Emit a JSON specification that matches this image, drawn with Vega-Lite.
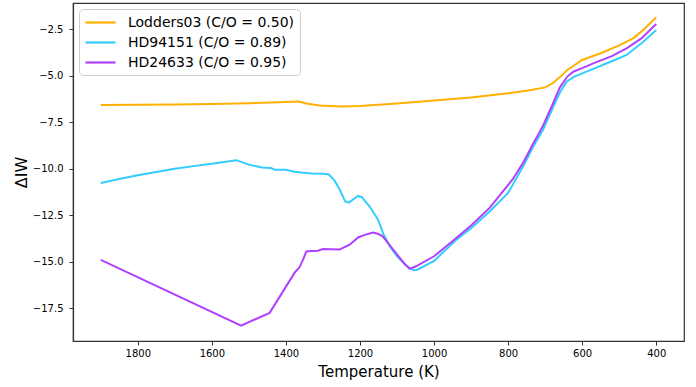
{
  "$schema": "https://vega.github.io/schema/vega-lite/v6.json",
  "width": 611,
  "height": 338,
  "autosize": {"type": "none"},
  "padding": {"left": 73, "top": 3, "right": 12, "bottom": 46},
  "config": {
    "font": "DejaVu Sans",
    "view": {"stroke": "#333", "strokeWidth": 1.2},
    "axis": {
      "grid": false,
      "domainColor": "#333",
      "domainWidth": 1.2,
      "tickColor": "#333",
      "tickSize": 4,
      "labelFontSize": 10,
      "labelColor": "#000",
      "titleFontSize": 16,
      "titleFontWeight": "normal",
      "titleColor": "#000"
    }
  },
  "data": {
    "values": [
      {"series": "Lodders03 (C/O = 0.50)", "T": 1900, "v": -6.58},
      {"series": "Lodders03 (C/O = 0.50)", "T": 1800, "v": -6.57},
      {"series": "Lodders03 (C/O = 0.50)", "T": 1700, "v": -6.55},
      {"series": "Lodders03 (C/O = 0.50)", "T": 1600, "v": -6.52},
      {"series": "Lodders03 (C/O = 0.50)", "T": 1500, "v": -6.48},
      {"series": "Lodders03 (C/O = 0.50)", "T": 1420, "v": -6.43},
      {"series": "Lodders03 (C/O = 0.50)", "T": 1365, "v": -6.39},
      {"series": "Lodders03 (C/O = 0.50)", "T": 1345, "v": -6.5},
      {"series": "Lodders03 (C/O = 0.50)", "T": 1310, "v": -6.6},
      {"series": "Lodders03 (C/O = 0.50)", "T": 1250, "v": -6.66},
      {"series": "Lodders03 (C/O = 0.50)", "T": 1200, "v": -6.63},
      {"series": "Lodders03 (C/O = 0.50)", "T": 1100, "v": -6.5},
      {"series": "Lodders03 (C/O = 0.50)", "T": 1000, "v": -6.34},
      {"series": "Lodders03 (C/O = 0.50)", "T": 900, "v": -6.18},
      {"series": "Lodders03 (C/O = 0.50)", "T": 800, "v": -5.95},
      {"series": "Lodders03 (C/O = 0.50)", "T": 750, "v": -5.81},
      {"series": "Lodders03 (C/O = 0.50)", "T": 700, "v": -5.63},
      {"series": "Lodders03 (C/O = 0.50)", "T": 680, "v": -5.41},
      {"series": "Lodders03 (C/O = 0.50)", "T": 660, "v": -5.08},
      {"series": "Lodders03 (C/O = 0.50)", "T": 640, "v": -4.7},
      {"series": "Lodders03 (C/O = 0.50)", "T": 620, "v": -4.43},
      {"series": "Lodders03 (C/O = 0.50)", "T": 600, "v": -4.16},
      {"series": "Lodders03 (C/O = 0.50)", "T": 550, "v": -3.8},
      {"series": "Lodders03 (C/O = 0.50)", "T": 500, "v": -3.38},
      {"series": "Lodders03 (C/O = 0.50)", "T": 460, "v": -2.97},
      {"series": "Lodders03 (C/O = 0.50)", "T": 430, "v": -2.45},
      {"series": "Lodders03 (C/O = 0.50)", "T": 400, "v": -1.87},

      {"series": "HD94151 (C/O = 0.89)", "T": 1900, "v": -10.77},
      {"series": "HD94151 (C/O = 0.89)", "T": 1850, "v": -10.55},
      {"series": "HD94151 (C/O = 0.89)", "T": 1800, "v": -10.35},
      {"series": "HD94151 (C/O = 0.89)", "T": 1750, "v": -10.17},
      {"series": "HD94151 (C/O = 0.89)", "T": 1700, "v": -10.0},
      {"series": "HD94151 (C/O = 0.89)", "T": 1650, "v": -9.86},
      {"series": "HD94151 (C/O = 0.89)", "T": 1600, "v": -9.73},
      {"series": "HD94151 (C/O = 0.89)", "T": 1534, "v": -9.54},
      {"series": "HD94151 (C/O = 0.89)", "T": 1500, "v": -9.78},
      {"series": "HD94151 (C/O = 0.89)", "T": 1465, "v": -9.93},
      {"series": "HD94151 (C/O = 0.89)", "T": 1440, "v": -9.96},
      {"series": "HD94151 (C/O = 0.89)", "T": 1430, "v": -10.06},
      {"series": "HD94151 (C/O = 0.89)", "T": 1400, "v": -10.06},
      {"series": "HD94151 (C/O = 0.89)", "T": 1380, "v": -10.15},
      {"series": "HD94151 (C/O = 0.89)", "T": 1360, "v": -10.2},
      {"series": "HD94151 (C/O = 0.89)", "T": 1330, "v": -10.26},
      {"series": "HD94151 (C/O = 0.89)", "T": 1300, "v": -10.27},
      {"series": "HD94151 (C/O = 0.89)", "T": 1285, "v": -10.3},
      {"series": "HD94151 (C/O = 0.89)", "T": 1270, "v": -10.6},
      {"series": "HD94151 (C/O = 0.89)", "T": 1255, "v": -11.1},
      {"series": "HD94151 (C/O = 0.89)", "T": 1240, "v": -11.75},
      {"series": "HD94151 (C/O = 0.89)", "T": 1230, "v": -11.82},
      {"series": "HD94151 (C/O = 0.89)", "T": 1215, "v": -11.6},
      {"series": "HD94151 (C/O = 0.89)", "T": 1205, "v": -11.46},
      {"series": "HD94151 (C/O = 0.89)", "T": 1195, "v": -11.52},
      {"series": "HD94151 (C/O = 0.89)", "T": 1174, "v": -12.03},
      {"series": "HD94151 (C/O = 0.89)", "T": 1151, "v": -12.74},
      {"series": "HD94151 (C/O = 0.89)", "T": 1137, "v": -13.5},
      {"series": "HD94151 (C/O = 0.89)", "T": 1120, "v": -14.15},
      {"series": "HD94151 (C/O = 0.89)", "T": 1100, "v": -14.7},
      {"series": "HD94151 (C/O = 0.89)", "T": 1075, "v": -15.2},
      {"series": "HD94151 (C/O = 0.89)", "T": 1055, "v": -15.45},
      {"series": "HD94151 (C/O = 0.89)", "T": 1045, "v": -15.42},
      {"series": "HD94151 (C/O = 0.89)", "T": 1000, "v": -14.95},
      {"series": "HD94151 (C/O = 0.89)", "T": 940, "v": -13.81},
      {"series": "HD94151 (C/O = 0.89)", "T": 900, "v": -13.2},
      {"series": "HD94151 (C/O = 0.89)", "T": 850, "v": -12.3},
      {"series": "HD94151 (C/O = 0.89)", "T": 800, "v": -11.3},
      {"series": "HD94151 (C/O = 0.89)", "T": 760, "v": -9.9},
      {"series": "HD94151 (C/O = 0.89)", "T": 732, "v": -8.81},
      {"series": "HD94151 (C/O = 0.89)", "T": 706, "v": -7.92},
      {"series": "HD94151 (C/O = 0.89)", "T": 678, "v": -6.67},
      {"series": "HD94151 (C/O = 0.89)", "T": 660, "v": -5.9},
      {"series": "HD94151 (C/O = 0.89)", "T": 642, "v": -5.33},
      {"series": "HD94151 (C/O = 0.89)", "T": 624, "v": -5.08},
      {"series": "HD94151 (C/O = 0.89)", "T": 600, "v": -4.88},
      {"series": "HD94151 (C/O = 0.89)", "T": 570, "v": -4.64},
      {"series": "HD94151 (C/O = 0.89)", "T": 525, "v": -4.27},
      {"series": "HD94151 (C/O = 0.89)", "T": 480, "v": -3.89},
      {"series": "HD94151 (C/O = 0.89)", "T": 435, "v": -3.18},
      {"series": "HD94151 (C/O = 0.89)", "T": 400, "v": -2.55},

      {"series": "HD24633 (C/O = 0.95)", "T": 1900, "v": -14.89},
      {"series": "HD24633 (C/O = 0.95)", "T": 1521, "v": -18.42},
      {"series": "HD24633 (C/O = 0.95)", "T": 1444, "v": -17.74},
      {"series": "HD24633 (C/O = 0.95)", "T": 1376, "v": -15.57},
      {"series": "HD24633 (C/O = 0.95)", "T": 1363, "v": -15.28},
      {"series": "HD24633 (C/O = 0.95)", "T": 1352, "v": -14.8},
      {"series": "HD24633 (C/O = 0.95)", "T": 1345, "v": -14.44},
      {"series": "HD24633 (C/O = 0.95)", "T": 1330, "v": -14.42},
      {"series": "HD24633 (C/O = 0.95)", "T": 1314, "v": -14.4},
      {"series": "HD24633 (C/O = 0.95)", "T": 1300, "v": -14.31},
      {"series": "HD24633 (C/O = 0.95)", "T": 1255, "v": -14.33},
      {"series": "HD24633 (C/O = 0.95)", "T": 1228, "v": -14.08},
      {"series": "HD24633 (C/O = 0.95)", "T": 1205, "v": -13.69},
      {"series": "HD24633 (C/O = 0.95)", "T": 1187, "v": -13.55},
      {"series": "HD24633 (C/O = 0.95)", "T": 1165, "v": -13.42},
      {"series": "HD24633 (C/O = 0.95)", "T": 1150, "v": -13.5},
      {"series": "HD24633 (C/O = 0.95)", "T": 1138, "v": -13.64},
      {"series": "HD24633 (C/O = 0.95)", "T": 1120, "v": -14.1},
      {"series": "HD24633 (C/O = 0.95)", "T": 1100, "v": -14.6},
      {"series": "HD24633 (C/O = 0.95)", "T": 1080, "v": -15.1},
      {"series": "HD24633 (C/O = 0.95)", "T": 1066, "v": -15.38},
      {"series": "HD24633 (C/O = 0.95)", "T": 1050, "v": -15.25},
      {"series": "HD24633 (C/O = 0.95)", "T": 1000, "v": -14.7},
      {"series": "HD24633 (C/O = 0.95)", "T": 940, "v": -13.72},
      {"series": "HD24633 (C/O = 0.95)", "T": 900, "v": -13.05},
      {"series": "HD24633 (C/O = 0.95)", "T": 850, "v": -12.1},
      {"series": "HD24633 (C/O = 0.95)", "T": 787, "v": -10.55},
      {"series": "HD24633 (C/O = 0.95)", "T": 760, "v": -9.7},
      {"series": "HD24633 (C/O = 0.95)", "T": 735, "v": -8.75},
      {"series": "HD24633 (C/O = 0.95)", "T": 706, "v": -7.7},
      {"series": "HD24633 (C/O = 0.95)", "T": 680, "v": -6.55},
      {"series": "HD24633 (C/O = 0.95)", "T": 660, "v": -5.63},
      {"series": "HD24633 (C/O = 0.95)", "T": 640, "v": -5.05},
      {"series": "HD24633 (C/O = 0.95)", "T": 624, "v": -4.79},
      {"series": "HD24633 (C/O = 0.95)", "T": 600, "v": -4.6},
      {"series": "HD24633 (C/O = 0.95)", "T": 570, "v": -4.34},
      {"series": "HD24633 (C/O = 0.95)", "T": 520, "v": -3.95},
      {"series": "HD24633 (C/O = 0.95)", "T": 480, "v": -3.54},
      {"series": "HD24633 (C/O = 0.95)", "T": 440, "v": -3.0},
      {"series": "HD24633 (C/O = 0.95)", "T": 400, "v": -2.23}
    ]
  },
  "mark": {"type": "line", "strokeWidth": 2, "clip": true},
  "encoding": {
    "x": {
      "field": "T",
      "type": "quantitative",
      "scale": {"domain": [325, 1975], "reverse": true, "nice": false, "zero": false},
      "axis": {"values": [1800, 1600, 1400, 1200, 1000, 800, 600, 400], "format": "d", "title": "Temperature (K)", "titleFontSize": 15, "titlePadding": 6, "labelPadding": 3}
    },
    "y": {
      "field": "v",
      "type": "quantitative",
      "scale": {"domain": [-19.25, -1.1], "nice": false, "zero": false},
      "axis": {"values": [-17.5, -15, -12.5, -10, -7.5, -5, -2.5], "format": ".1f", "title": "ΔIW", "titlePadding": 3, "labelPadding": 6}
    },
    "color": {
      "field": "series",
      "type": "nominal",
      "sort": ["Lodders03 (C/O = 0.50)", "HD94151 (C/O = 0.89)", "HD24633 (C/O = 0.95)"],
      "scale": {
        "domain": ["Lodders03 (C/O = 0.50)", "HD94151 (C/O = 0.89)", "HD24633 (C/O = 0.95)"],
        "range": ["#FFB000", "#33CCFF", "#B040FF"]
      },
      "legend": {
        "title": null,
        "orient": "top-left",
        "offset": 6,
        "padding": 5,
        "fillColor": "white",
        "strokeColor": "#cccccc",
        "cornerRadius": 4,
        "symbolType": "M-1,0H3.29",
        "symbolSize": 196,
        "symbolStrokeWidth": 2.2,
        "symbolFillColor": "transparent",
        "labelFontSize": 14,
        "labelLimit": 0,
        "labelColor": "#000",
        "labelOffset": 27,
        "rowPadding": 4
      }
    }
  }
}
